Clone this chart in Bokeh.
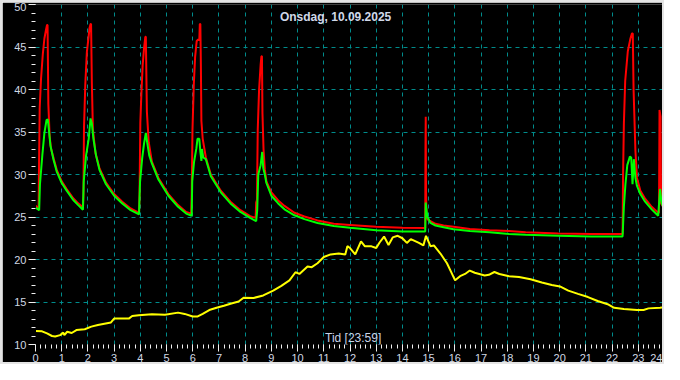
import math
from bokeh.plotting import figure
from bokeh.models import Range1d, SingleIntervalTicker, FixedTicker, Label, Span
from bokeh.embed import file_html
from bokeh.resources import INLINE

title_text = "Onsdag, 10.09.2025"
xlabel_text = "Tid [23:59]"
ylabel_text = "°C"

red_t = [0.00, 0.10, 0.12, 0.13, 0.16, 0.21, 0.28, 0.34, 0.40, 0.44, 0.46, 0.49, 0.54, 0.59, 0.69, 0.81,
         1.00, 1.19, 1.44, 1.63, 1.79, 1.81, 1.83, 1.85, 1.90, 1.96, 2.03, 2.06, 2.10, 2.12, 2.15, 2.19,
         2.29, 2.44, 2.69, 3.00, 3.31, 3.63, 3.88, 3.95, 3.97, 4.00, 4.04, 4.09, 4.14, 4.19, 4.21, 4.25,
         4.32, 4.44, 4.69, 5.07, 5.44, 5.75, 5.94, 5.96, 5.99, 6.04, 6.09, 6.15, 6.21, 6.25, 6.27, 6.29,
         6.31, 6.33, 6.38, 6.50, 6.69, 7.07, 7.44, 7.82, 8.19, 8.40, 8.42, 8.45, 8.48, 8.53, 8.59, 8.62,
         8.64, 8.66, 8.70, 8.75, 8.81, 9.00, 9.26, 9.50, 9.88, 10.26, 10.76, 11.38, 12.00, 13.00, 14.00,
         14.87, 14.88, 14.89, 14.90, 14.92, 15.00, 15.07, 15.26, 15.57, 15.95, 16.57, 17.32, 18.07, 18.70,
         19.95, 21.20, 22.40, 22.42, 22.45, 22.50, 22.60, 22.70, 22.76, 22.79, 22.82, 22.89, 22.95, 23.08,
         23.26, 23.51, 23.76, 23.79, 23.81, 23.85, 23.87, 23.95, 24.00]
red_v = [26.3, 26.1, 26.0, 29.8, 37.8, 41.2, 44.2, 46.0, 47.0, 47.6, 47.6, 38.3, 34.5, 33.1, 31.9, 30.55,
         29.2, 28.3, 27.2, 26.6, 26.2, 26.0, 27.7, 35.5, 40.6, 44.4, 46.3, 47.2, 47.7, 47.7, 40.8, 35.3,
         32.5, 30.75, 29.05, 27.7, 26.8, 26.0, 25.6, 25.5, 27.7, 36.1, 39.5, 42.9, 44.8, 46.2, 46.2, 37.4,
         33.8, 31.5, 29.6, 27.7, 26.4, 25.6, 25.4, 27.7, 35.3, 40.6, 43.8, 45.7, 45.9, 45.8, 47.7, 47.7,
         42.9, 36.3, 34.2, 32.0, 30.0, 28.1, 26.8, 25.8, 25.1, 24.9, 26.7, 27.0, 35.3, 39.9, 42.9, 43.9,
         43.9, 37.2, 33.0, 30.6, 29.2, 27.9, 26.95, 26.3, 25.5, 25.06, 24.6, 24.2, 24.07, 23.85, 23.73,
         23.72, 33.0, 36.8, 28.1, 24.9, 24.6, 24.5, 24.2, 24.0, 23.85, 23.6, 23.45, 23.35, 23.2,
         23.05, 23.0, 23.0, 30.0, 36.0, 41.0, 44.5, 46.0, 46.6, 46.6, 40.0, 32.8, 29.6, 28.1,
         27.15, 26.2, 25.5, 25.5, 37.6, 36.8, 26.6, 26.2, 26.0]

green_t = [0.00, 0.10, 0.14, 0.17, 0.26, 0.34, 0.42, 0.47, 0.51, 0.57, 0.69, 0.81, 1.00, 1.19, 1.44, 1.63,
           1.81, 1.84, 1.93, 2.03, 2.10, 2.15, 2.21, 2.31, 2.44, 2.69, 3.00, 3.31, 3.63, 3.95, 3.99, 4.07,
           4.14, 4.21, 4.26, 4.34, 4.44, 4.69, 5.07, 5.44, 5.75, 5.96, 5.98, 6.05, 6.14, 6.18, 6.25, 6.29,
           6.33, 6.35, 6.40, 6.50, 6.69, 7.07, 7.44, 7.82, 8.19, 8.42, 8.46, 8.50, 8.59, 8.65, 8.69, 8.75,
           8.81, 9.00, 9.26, 9.50, 9.88, 10.26, 10.76, 11.38, 12.00, 13.00, 14.00, 14.87, 14.89, 14.91, 14.95,
           15.07, 15.26, 15.57, 15.95, 16.57, 17.32, 18.07, 18.70, 19.95, 21.20, 22.40, 22.45, 22.51, 22.58,
           22.68, 22.73, 22.78, 22.83, 22.89, 22.95, 23.08, 23.26, 23.51, 23.76, 23.83, 23.89, 24.00]
green_v = [26.1, 25.9, 25.8, 28.85, 32.25, 34.9, 36.4, 36.5, 35.3, 33.4, 31.7, 30.35, 29.0, 28.1, 27.0, 26.4,
           25.85, 29.2, 32.25, 34.2, 36.6, 36.0, 34.2, 32.25, 30.55, 28.85, 27.5, 26.6, 25.8, 25.3, 29.2, 31.9,
           33.6, 34.9, 33.8, 32.25, 31.3, 29.4, 27.5, 26.2, 25.4, 25.15, 29.2, 31.5, 33.1, 34.2, 34.2, 32.7,
           31.6, 33.0, 32.0, 31.8, 29.8, 27.9, 26.6, 25.6, 24.9, 24.5, 25.8, 30.0, 31.1, 32.65, 30.75, 30.0,
           29.0, 27.5, 26.6, 25.9, 25.2, 24.75, 24.3, 23.95, 23.73, 23.45, 23.3, 23.3, 26.7, 26.0, 25.06,
           24.3, 24.0, 23.8, 23.55, 23.35, 23.2, 23.0, 22.9, 22.8, 22.7, 22.7, 26.2, 28.85, 31.1,
           32.1, 32.0, 28.85, 31.8, 29.6, 28.65, 27.7, 26.8, 25.9, 25.15, 28.3, 26.6, 25.85]

yellow_t = [0.00, 0.25, 0.44, 0.63, 0.75, 0.94, 1.06, 1.10, 1.21, 1.38, 1.56, 1.88, 2.13, 2.38, 2.63, 2.88,
            3.00, 3.25, 3.56, 3.69, 3.94, 4.44, 4.94, 5.44, 5.69, 6.00, 6.19, 6.38, 6.63, 6.94, 7.19, 7.44,
            7.75, 7.94, 8.32, 8.69, 9.07, 9.38, 9.69, 9.92, 10.07, 10.38, 10.54, 10.76, 11.00, 11.26, 11.57,
            11.82, 11.90, 12.00, 12.20, 12.42, 12.57, 12.82, 13.00, 13.13, 13.30, 13.47, 13.63, 13.82, 14.00,
            14.17, 14.32, 14.63, 14.80, 14.90, 15.07, 15.20, 15.45, 15.70, 15.88, 16.01, 16.20, 16.39, 16.57,
            16.76, 17.14, 17.30, 17.51, 17.70, 18.07, 18.45, 18.89, 19.32, 19.70, 20.01, 20.33, 20.70, 21.08,
            21.45, 21.83, 22.08, 22.45, 22.95, 23.20, 23.39, 23.83, 24.00]
yellow_v = [11.6, 11.55, 11.3, 11.0, 10.95, 11.1, 11.4, 11.1, 11.5, 11.35, 11.7, 11.8, 12.1, 12.3, 12.45, 12.6,
            13.05, 13.05, 13.05, 13.35, 13.45, 13.55, 13.5, 13.75, 13.6, 13.3, 13.3, 13.6, 14.05, 14.35, 14.55, 14.8,
            15.05, 15.5, 15.47, 15.77, 16.34, 16.9, 17.55, 18.5, 18.3, 19.18, 19.1, 19.56, 20.3, 20.6, 20.7,
            20.6, 21.57, 21.35, 20.6, 22.13, 21.55, 21.55, 21.35, 22.0, 22.7, 21.7, 22.6, 22.79, 22.5,
            21.95, 22.4, 21.95, 21.65, 22.79, 21.57, 21.65, 20.7, 19.56, 18.4, 17.55, 18.04, 18.3, 18.7,
            18.44, 18.12, 18.2, 18.53, 18.3, 18.04, 17.93, 17.67, 17.29, 16.99, 16.83, 16.34, 15.96, 15.58,
            15.12, 14.74, 14.32, 14.17, 14.06, 14.06, 14.25, 14.32, 14.4]

x_grid_ticks = list(range(1, 24))
y_grid_ticks = [15, 20, 25, 30, 35, 40, 45]

p = figure(width=660, height=360, output_backend="svg", toolbar_location=None,
           x_range=Range1d(0, 24), y_range=Range1d(10, 50),
           min_border_left=33, min_border_right=2, min_border_top=2, min_border_bottom=22,
           background_fill_color="#000000", border_fill_color="#000000",
           outline_line_color=None)
p.styles = {"border": "2px solid #e4e4e4", "box-sizing": "content-box"}

p.xaxis.ticker = SingleIntervalTicker(interval=1, num_minor_ticks=5)
p.yaxis.ticker = SingleIntervalTicker(interval=5, num_minor_ticks=5)
for ax in (p.xaxis, p.yaxis):
    ax.axis_line_color = "#000000"
    ax.major_tick_line_color = "#f0f0f0"
    ax.minor_tick_line_color = "#f0f0f0"
    ax.major_tick_line_width = 1
    ax.minor_tick_line_width = 1
    ax.major_tick_in = 0
    ax.minor_tick_in = 0
    ax.major_tick_out = 7
    ax.minor_tick_out = 4
    ax.major_label_text_color = "#d0d8e4"
    ax.major_label_text_font = "Liberation Sans"
    ax.major_label_text_font_size = "11px"
    ax.major_label_standoff = 2

p.xgrid.ticker = FixedTicker(ticks=x_grid_ticks)
p.ygrid.ticker = FixedTicker(ticks=y_grid_ticks)
for g in (p.xgrid, p.ygrid):
    g.grid_line_color = "#008b8b"
    g.grid_line_dash = "4 4"
    g.grid_line_width = 1

p.line(red_t, red_v, line_color="#ff0000", line_width=2)
p.line(green_t, green_v, line_color="#00ff00", line_width=2)
p.line(yellow_t, yellow_v, line_color="#ffff00", line_width=2)

p.add_layout(Span(location=23.97, dimension="height", line_color="#30e0f0",
                  line_dash="5 4", line_width=2))

p.add_layout(Label(x=11.45, y=48.5, text=title_text, text_align="center", text_baseline="middle",
                   text_font="Liberation Sans", text_font_style="bold", text_font_size="12px",
                   text_color="#d0d8e8"))
p.add_layout(Label(x=12.12, y=10.8, text=xlabel_text, text_align="center", text_baseline="middle",
                   text_font="Liberation Sans", text_font_size="12px", text_color="#c8d4e8"))
p.add_layout(Label(x=-0.92, y=30, text=ylabel_text, angle=math.pi / 2, text_align="center",
                   text_baseline="middle", text_font="Liberation Sans", text_font_size="11px",
                   text_color="#d0d8e4"))

open("out.html", "w").write(file_html(p, INLINE))
